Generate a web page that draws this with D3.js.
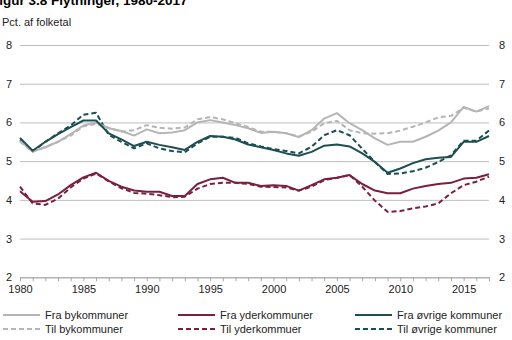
<!DOCTYPE html>
<html>
<head>
<meta charset="utf-8">
<script src="https://cdn.jsdelivr.net/npm/d3@7"></script>
<style>
  body { margin: 0; background: #fff; }
  svg { display: block; font-family: "Liberation Sans", Arial, sans-serif; }
</style>
</head>
<body>
<svg id="chart" width="512" height="340"></svg>
<script>
// Data (pct. of population)
const years = d3.range(1980, 2018);

const fraBy = [5.52, 5.25, 5.36, 5.5, 5.7, 5.92, 6.0, 5.85, 5.78, 5.66, 5.82, 5.72, 5.74, 5.8,
  6.0, 6.06, 6.0, 5.93, 5.85, 5.73, 5.76, 5.72, 5.62, 5.8, 6.1, 6.24, 5.98, 5.8, 5.59, 5.42,
  5.5, 5.5, 5.63, 5.79, 6.0, 6.4, 6.28, 6.42];
const tilBy = [5.5, 5.25, 5.36, 5.5, 5.66, 5.9, 5.96, 5.86, 5.76, 5.8, 5.93, 5.86, 5.84, 5.87,
  6.08, 6.14, 6.08, 5.98, 5.88, 5.76, 5.76, 5.72, 5.64, 5.76, 5.98, 6.04, 5.8, 5.72, 5.71, 5.72,
  5.79, 5.89, 6.0, 6.13, 6.17, 6.38, 6.28, 6.36];

const fraYder = [4.22, 3.95, 3.97, 4.14, 4.38, 4.58, 4.7, 4.49, 4.34, 4.24, 4.21, 4.21, 4.1, 4.1,
  4.41, 4.53, 4.57, 4.44, 4.44, 4.36, 4.38, 4.36, 4.24, 4.38, 4.53, 4.57, 4.64, 4.41, 4.24, 4.17,
  4.17, 4.29, 4.36, 4.41, 4.44, 4.55, 4.57, 4.66];
const tilYder = [4.34, 3.91, 3.87, 4.03, 4.32, 4.55, 4.68, 4.48, 4.3, 4.18, 4.16, 4.12, 4.07, 4.08,
  4.29, 4.41, 4.44, 4.44, 4.41, 4.34, 4.33, 4.32, 4.24, 4.34, 4.51, 4.57, 4.64, 4.34, 3.98, 3.69,
  3.71, 3.78, 3.83, 3.91, 4.17, 4.38, 4.47, 4.6];

const fraOevrige = [5.6, 5.27, 5.5, 5.7, 5.88, 6.05, 6.05, 5.72, 5.56, 5.39, 5.5, 5.42, 5.36, 5.29,
  5.5, 5.65, 5.63, 5.56, 5.43, 5.36, 5.29, 5.2, 5.14, 5.24, 5.4, 5.43, 5.38, 5.2, 4.98, 4.7,
  4.81, 4.95, 5.05, 5.09, 5.11, 5.5, 5.5, 5.65];
const tilOevrige = [5.55, 5.25, 5.5, 5.72, 5.92, 6.2, 6.25, 5.68, 5.5, 5.33, 5.46, 5.33, 5.26, 5.23,
  5.46, 5.63, 5.63, 5.6, 5.46, 5.38, 5.31, 5.26, 5.2, 5.37, 5.67, 5.8, 5.67, 5.32, 4.98, 4.67,
  4.68, 4.74, 4.83, 4.98, 5.15, 5.53, 5.53, 5.79];

const yTicks = [2, 3, 4, 5, 6, 7, 8];
const xLabels = [1980, 1985, 1990, 1995, 2000, 2005, 2010, 2015];

const grey = "#b5b5b5";
const maroon = "#7b1f40";
const teal = "#1d4f52";

const series = [
  { name: "Fra bykommuner", values: fraBy, color: grey, dashed: false },
  { name: "Fra yderkommuner", values: fraYder, color: maroon, dashed: false },
  { name: "Fra øvrige kommuner", values: fraOevrige, color: teal, dashed: false },
  { name: "Til bykommuner", values: tilBy, color: grey, dashed: true },
  { name: "Til yderkommuer", values: tilYder, color: maroon, dashed: true },
  { name: "Til øvrige kommuner", values: tilOevrige, color: teal, dashed: true }
];

const svg = d3.select("#chart");
const plotLeft = 20, plotRight = 489, plotTop = 45, plotBottom = 277.3;

const x = d3.scaleLinear().domain([1980, 2017]).range([plotLeft, plotRight]);
const y = d3.scaleLinear().domain([2, 8]).range([plotBottom, plotTop]);

// Title (cut off at the top-left edge, as in the source)
svg.append("text")
  .attr("x", -9)
  .attr("y", 5)
  .style("font-size", "13.5px")
  .style("font-weight", "bold")
  .attr("fill", "#000")
  .text("Figur 3.8 Flytninger, 1980-2017");

svg.append("text")
  .attr("x", 2)
  .attr("y", 26)
  .style("font-size", "11px")
  .attr("fill", "#222")
  .text("Pct. af folketal");

// Gridlines + left labels
const yLeft = svg.append("g")
  .attr("transform", `translate(${plotLeft},0)`)
  .call(d3.axisLeft(y).tickValues(yTicks).tickFormat(d3.format("d"))
    .tickSize(-(plotRight - plotLeft)).tickPadding(8));
yLeft.select(".domain").remove();
yLeft.selectAll("line").attr("stroke", "#bdbdbd");
yLeft.selectAll("text").style("font-size", "11px").attr("fill", "#222");

// Right labels
const yRight = svg.append("g")
  .attr("transform", `translate(${plotRight},0)`)
  .call(d3.axisRight(y).tickValues(yTicks).tickFormat(d3.format("d"))
    .tickSize(0).tickPadding(10));
yRight.select(".domain").remove();
yRight.selectAll("text").style("font-size", "11px").attr("fill", "#222");

// X axis with a tick every year
const xAxis = svg.append("g")
  .attr("transform", `translate(0,${plotBottom})`)
  .call(d3.axisBottom(x)
    .tickValues(years)
    .tickSize(4)
    .tickSizeOuter(0)
    .tickPadding(4)
    .tickFormat(d => xLabels.includes(d) ? d : ""));
xAxis.select(".domain").attr("stroke", "#a8a8a8");
xAxis.selectAll("line").attr("stroke", "#a8a8a8");
xAxis.selectAll("text").style("font-size", "11px").attr("fill", "#222");

// Lines
const line = d3.line()
  .x((d, i) => x(years[i]))
  .y(d => y(d));

// dashed first, solid on top
[3, 4, 5, 0, 1, 2].forEach(k => {
  const s = series[k];
  svg.append("path")
    .datum(s.values)
    .attr("fill", "none")
    .attr("stroke", s.color)
    .attr("stroke-width", 2)
    .attr("stroke-linejoin", "round")
    .attr("stroke-dasharray", s.dashed ? "5,3" : null)
    .attr("d", line);
});

// Legend
const legendCols = [3, 178, 355];
const legendRows = [315, 329];
series.forEach((s, i) => {
  const col = i % 3, row = Math.floor(i / 3);
  const g = svg.append("g")
    .attr("transform", `translate(${legendCols[col]},${legendRows[row]})`);
  g.append("line")
    .attr("x1", 0).attr("x2", 37)
    .attr("y1", 0).attr("y2", 0)
    .attr("stroke", s.color)
    .attr("stroke-width", 2)
    .attr("stroke-dasharray", s.dashed ? "5,3" : null);
  g.append("text")
    .attr("x", 42)
    .attr("y", 4)
    .style("font-size", "11px")
    .attr("fill", "#222")
    .text(s.name);
});
</script>
</body>
</html>
